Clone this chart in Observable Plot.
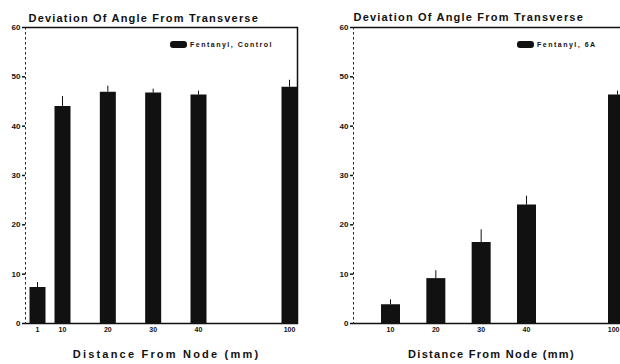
<!DOCTYPE html>
<html><head><meta charset="utf-8">
<script src="https://cdn.jsdelivr.net/npm/d3@7"></script>
<script src="https://cdn.jsdelivr.net/npm/@observablehq/plot@0.6"></script>
<style>
body{margin:0;background:#fff;}
#wrap{position:relative;width:620px;height:364px;overflow:hidden;font-family:"Liberation Sans",Arial,sans-serif;background:#fff;}
.panel{position:absolute;top:0;}
.panel svg{max-width:none !important;}
.legend{position:absolute;font-size:7px;font-weight:bold;letter-spacing:1.5px;display:flex;align-items:center;gap:3px;white-space:nowrap;color:#111;}
.sw{display:inline-block;width:17px;height:7px;background:#111;border-radius:3px;}
</style></head>
<body><div id="wrap"></div>
<script>
// Data
const distancesControl = [1, 10, 20, 30, 40, 100];
const deviationControl = [7.3, 44.0, 46.9, 46.7, 46.3, 47.9];
const errorControl = [1.0, 2.0, 1.2, 0.8, 0.8, 1.4];
const distances6A = [10, 20, 30, 40, 100];
const deviation6A = [3.8, 9.1, 16.4, 24.0, 46.3];
const error6A = [1.0, 1.6, 2.6, 1.8, 0.8];
const yTicks = [0, 10, 20, 30, 40, 50, 60];
const titleText = "Deviation Of Angle From Transverse";
const xLabelText = "Distance From Node (mm)";
const seriesNames = ["Fentanyl, Control", "Fentanyl, 6A"];

const wrap = document.getElementById("wrap");

function makePanel({dist, dev, err, left, width, marginLeft, marginRight, barWidth, rightBorder, titleDx, titleDy, labelDx, labelSpacing, lastTickEnd, legend, legendLeft, legendTop}) {
  const data = dist.map((d, i) => ({d, v: dev[i], e: err[i]}));
  const ml = marginLeft;
  const mainTicks = lastTickEnd ? dist.slice(0, -1) : dist;
  const marks = [
    Plot.ruleY([0], {stroke: "#111", strokeWidth: 1.5}),
    Plot.ruleY([60], {stroke: "#111", strokeWidth: 1.5}),
    Plot.frame({anchor: "left", stroke: "#222", strokeDasharray: "1.5,3.5", strokeWidth: 1}),
    Plot.ruleX(data, {x: "d", y1: 0, y2: "v", stroke: "#111", strokeWidth: barWidth}),
    Plot.ruleX(data, {x: "d", y1: "v", y2: d => d.v + d.e, stroke: "#111", strokeWidth: 1}),
    Plot.axisY(yTicks, {tickSize: 3, tickPadding: 2, fontSize: 8, fontWeight: "bold", label: null, stroke: "#111", strokeWidth: 1.5}),
    Plot.axisX(mainTicks, {tickSize: 0, tickPadding: 4, fontSize: 7, fontWeight: "bold", label: null}),
    Plot.text([titleText], {frameAnchor: "top-left", dx: titleDx, dy: titleDy, textAnchor: "start", fontSize: 11, fontWeight: "bold", fill: "#111"}),
    Plot.text([xLabelText], {frameAnchor: "bottom", dx: labelDx, dy: 34, fontSize: 11, fontWeight: "bold", fill: "#111"})
  ];
  if (lastTickEnd) marks.push(Plot.axisX(dist.slice(-1), {tickSize: 0, tickPadding: 4, fontSize: 7, fontWeight: "bold", label: null, textAnchor: "end", dx: 2}));
  if (rightBorder) marks.push(Plot.frame({anchor: "right", stroke: "#111", strokeWidth: 1.5}));
  const chart = Plot.plot({
    width, height: 364,
    marginLeft, marginRight, marginTop: 27, marginBottom: 41,
    style: {fontFamily: "Liberation Sans, Arial, sans-serif", background: "transparent", color: "#111", overflow: "visible"},
    x: {type: "linear", domain: [1, 10, 40, 100], range: [ml + 12, ml + 37, ml + 173, ml + 264]},
    y: {domain: [0, 60]},
    marks
  });
  d3.select(chart).selectAll("text").each(function() {
    const t = this.textContent;
    if (t === titleText) d3.select(this).attr("letter-spacing", "1.2px");
    if (t === xLabelText) d3.select(this).attr("letter-spacing", labelSpacing + "px");
  });
  const div = document.createElement("div");
  div.className = "panel";
  div.style.left = left + "px";
  div.style.width = width + "px";
  div.appendChild(chart);
  wrap.appendChild(div);
  const lg = document.createElement("div");
  lg.className = "legend";
  lg.style.left = legendLeft + "px";
  lg.style.top = legendTop + "px";
  lg.innerHTML = '<span class="sw"></span><span></span>';
  lg.lastChild.textContent = legend;
  wrap.appendChild(lg);
}

makePanel({dist: distancesControl, dev: deviationControl, err: errorControl, left: 0, width: 310,
  marginLeft: 25, marginRight: 13, barWidth: 16, rightBorder: true, titleDx: 3, titleDy: -13,
  labelDx: 5, labelSpacing: 2.2, lastTickEnd: false,
  legend: seriesNames[0], legendLeft: 170, legendTop: 41});
makePanel({dist: distances6A, dev: deviation6A, err: error6A, left: 310, width: 315,
  marginLeft: 43, marginRight: 0, barWidth: 19, rightBorder: false, titleDx: 0, titleDy: -14,
  labelDx: 2, labelSpacing: 1.3, lastTickEnd: true,
  legend: seriesNames[1], legendLeft: 517, legendTop: 41});
</script>
</body></html>
